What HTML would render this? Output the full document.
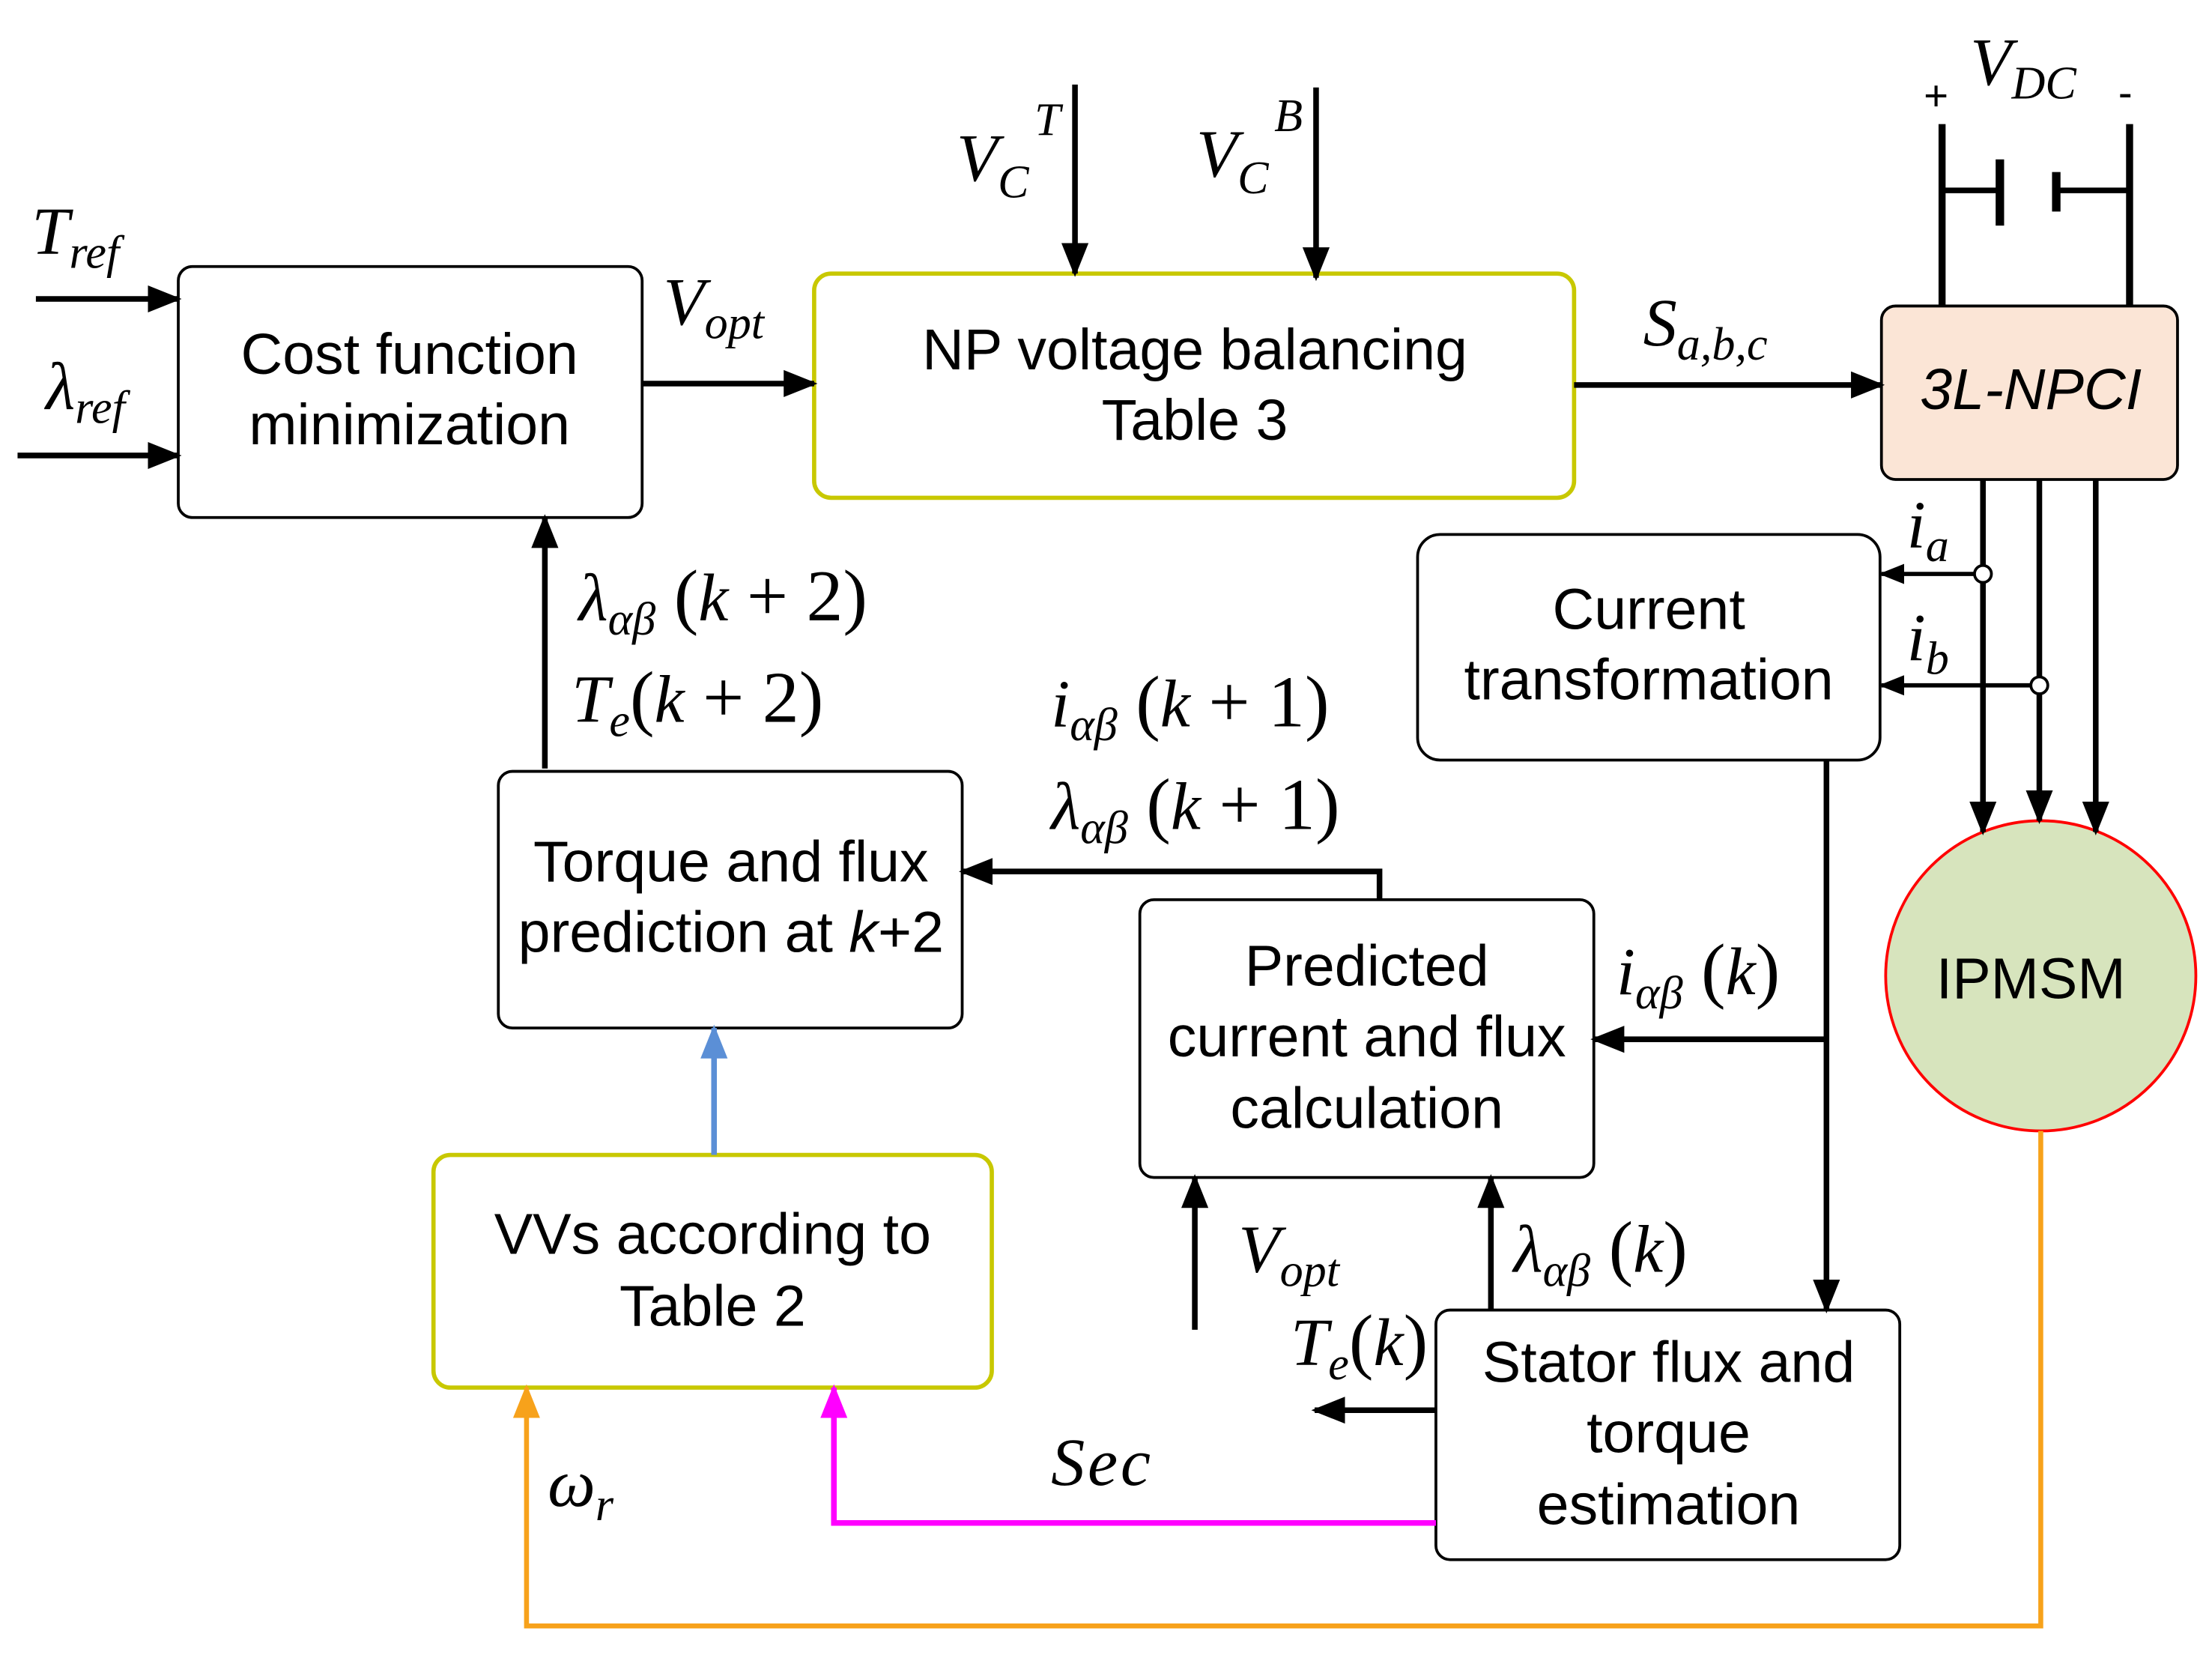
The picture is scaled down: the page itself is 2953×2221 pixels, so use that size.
<!DOCTYPE html>
<html><head><meta charset="utf-8"><style>
html,body{margin:0;padding:0;background:#fff;}
svg{display:block;}
.t{font-family:"Liberation Sans",sans-serif;font-size:41px;fill:#000;text-anchor:middle;}
.m{font-family:"Liberation Serif",serif;font-style:italic;font-size:48px;fill:#000;}
.s{font-size:33px;}
.n{font-style:normal;font-size:52px;}
</style></head><body>
<svg width="2953" height="2221" viewBox="0 0 1568 1180" xmlns="http://www.w3.org/2000/svg">
<defs>
<marker id="ab" viewBox="0 0 10 10" refX="9" refY="5" markerWidth="24" markerHeight="24" orient="auto" markerUnits="userSpaceOnUse"><path d="M0,1 L10,5 L0,9 z" fill="#000"/></marker>
<marker id="abl" viewBox="0 0 10 10" refX="9" refY="5" markerWidth="24" markerHeight="24" orient="auto" markerUnits="userSpaceOnUse"><path d="M0,1 L10,5 L0,9 z" fill="#5b8fd6"/></marker>
<marker id="am" viewBox="0 0 10 10" refX="9" refY="5" markerWidth="24" markerHeight="24" orient="auto" markerUnits="userSpaceOnUse"><path d="M0,1 L10,5 L0,9 z" fill="#ff00ff"/></marker>
<marker id="ao" viewBox="0 0 10 10" refX="9" refY="5" markerWidth="24" markerHeight="24" orient="auto" markerUnits="userSpaceOnUse"><path d="M0,1 L10,5 L0,9 z" fill="#f7a21b"/></marker>
<marker id="as" viewBox="0 0 10 10" refX="9" refY="5" markerWidth="18" markerHeight="18" orient="auto" markerUnits="userSpaceOnUse"><path d="M0,1 L10,5 L0,9 z" fill="#000"/></marker>
</defs>
<g fill="none" stroke-width="2">
<rect x="126" y="189" width="329" height="178" rx="10" stroke="#000"/>
<rect x="577" y="194" width="539" height="159" rx="12" stroke="#c8c800" stroke-width="3"/>
<rect x="1334" y="217" width="210" height="123" rx="10" stroke="#000" fill="#fbe5d6"/>
<rect x="1005" y="379" width="328" height="160" rx="16" stroke="#000"/>
<circle cx="1447" cy="692" r="110" stroke="#ff0000" fill="#d7e4bd"/>
<rect x="353" y="547" width="329" height="182" rx="10" stroke="#000"/>
<rect x="808" y="638" width="322" height="197" rx="10" stroke="#000"/>
<rect x="307" y="819" width="396" height="165" rx="12" stroke="#c8c800" stroke-width="3"/>
<rect x="1018" y="929" width="329" height="177" rx="10" stroke="#000"/>
</g>
<g stroke="#000" stroke-width="4" fill="none">
<line x1="25" y1="212" x2="126" y2="212" marker-end="url(#ab)"/>
<line x1="12" y1="323" x2="126" y2="323" marker-end="url(#ab)"/>
<line x1="455" y1="272" x2="577" y2="272" marker-end="url(#ab)"/>
<line x1="762" y1="60" x2="762" y2="194" marker-end="url(#ab)"/>
<line x1="933" y1="62" x2="933" y2="197" marker-end="url(#ab)"/>
<line x1="1116" y1="273" x2="1334" y2="273" marker-end="url(#ab)"/>
<line x1="1377" y1="88" x2="1377" y2="217" stroke-width="5"/>
<line x1="1510" y1="88" x2="1510" y2="217" stroke-width="5"/>
<line x1="1377" y1="135" x2="1418" y2="135"/>
<line x1="1418" y1="113" x2="1418" y2="160" stroke-width="6"/>
<line x1="1458" y1="122" x2="1458" y2="150" stroke-width="6"/>
<line x1="1458" y1="135" x2="1510" y2="135"/>
<line x1="1406" y1="340" x2="1406" y2="590" marker-end="url(#ab)"/>
<line x1="1446" y1="340" x2="1446" y2="582" marker-end="url(#ab)"/>
<line x1="1486" y1="340" x2="1486" y2="590" marker-end="url(#ab)"/>
<line x1="1400" y1="407" x2="1334" y2="407" stroke-width="3" marker-end="url(#as)"/>
<line x1="1440" y1="486" x2="1334" y2="486" stroke-width="3" marker-end="url(#as)"/>
<line x1="1295" y1="539" x2="1295" y2="929" marker-end="url(#ab)"/>
<line x1="1295" y1="737" x2="1130" y2="737" marker-end="url(#ab)"/>
<polyline points="978,638 978,618 682,618" marker-end="url(#ab)"/>
<line x1="386" y1="545" x2="386" y2="367" marker-end="url(#ab)"/>
<line x1="847" y1="943" x2="847" y2="835" marker-end="url(#ab)"/>
<line x1="1057" y1="929" x2="1057" y2="835" marker-end="url(#ab)"/>
<line x1="1018" y1="1000" x2="932" y2="1000" marker-end="url(#ab)"/>
<line x1="506" y1="819" x2="506" y2="729" stroke="#5b8fd6" marker-end="url(#abl)"/>
<polyline points="1018,1080 591,1080 591,984" stroke="#ff00ff" marker-end="url(#am)"/>
<polyline points="1447,802 1447,1153 373,1153 373,984" stroke="#f7a21b" stroke-width="3.5" marker-end="url(#ao)"/>
</g>
<circle cx="1406" cy="407" r="6" fill="#fff" stroke="#000" stroke-width="2"/>
<circle cx="1446" cy="486" r="6" fill="#fff" stroke="#000" stroke-width="2"/>
<text class="t" x="290" y="265">Cost function</text>
<text class="t" x="290" y="315">minimization</text>
<text class="t" x="847" y="262">NP voltage balancing</text>
<text class="t" x="847" y="312">Table 3</text>
<text class="t" x="1440" y="290" font-style="italic">3L-NPCI</text>
<text class="t" x="1169" y="446">Current</text>
<text class="t" x="1169" y="496">transformation</text>
<text class="t" x="1440" y="708">IPMSM</text>
<text class="t" x="518" y="625">Torque and flux</text>
<text class="t" x="518" y="675">prediction at <tspan font-style="italic">k</tspan>+2</text>
<text class="t" x="969" y="699">Predicted</text>
<text class="t" x="969" y="749">current and flux</text>
<text class="t" x="969" y="800">calculation</text>
<text class="t" x="505" y="889">VVs according to</text>
<text class="t" x="505" y="940">Table 2</text>
<text class="t" x="1183" y="980">Stator flux and</text>
<text class="t" x="1183" y="1030">torque</text>
<text class="t" x="1183" y="1081">estimation</text>
<text class="m" x="22" y="180">T<tspan class="s" dy="10">ref</tspan></text>
<text class="m" x="32" y="290">λ<tspan class="s" dy="10">ref</tspan></text>
<text class="m" x="470" y="230">V<tspan class="s" dy="10">opt</tspan></text>
<text class="m" x="678" y="128">V<tspan class="s" dy="12">C</tspan><tspan class="s" dy="-44" dx="4">T</tspan></text>
<text class="m" x="848" y="125">V<tspan class="s" dy="12">C</tspan><tspan class="s" dy="-44" dx="4">B</tspan></text>
<text class="m" x="1165" y="245">S<tspan class="s" dy="10">a,b,c</tspan></text>
<text class="m" x="1397" y="60">V<tspan class="s" dy="10">DC</tspan></text>
<text x="1364" y="78" font-family="Liberation Sans" font-size="30">+</text>
<text x="1502" y="76" font-family="Liberation Sans" font-size="30">-</text>
<text class="m" x="1352" y="388">i<tspan class="s" dy="10">a</tspan></text>
<text class="m" x="1352" y="468">i<tspan class="s" dy="10">b</tspan></text>
<text class="m" x="410" y="440">λ<tspan class="s" dy="10">αβ</tspan><tspan class="n" dy="-10"> (</tspan>k<tspan class="n"> + 2)</tspan></text>
<text class="m" x="405" y="512">T<tspan class="s" dy="10">e</tspan><tspan class="n" dy="-10">(</tspan>k<tspan class="n"> + 2)</tspan></text>
<text class="m" x="745" y="515">i<tspan class="s" dy="10">αβ</tspan><tspan class="n" dy="-10"> (</tspan>k<tspan class="n"> + 1)</tspan></text>
<text class="m" x="745" y="588">λ<tspan class="s" dy="10">αβ</tspan><tspan class="n" dy="-10"> (</tspan>k<tspan class="n"> + 1)</tspan></text>
<text class="m" x="1146" y="705">i<tspan class="s" dy="10">αβ</tspan><tspan class="n" dy="-10"> (</tspan>k<tspan class="n">)</tspan></text>
<text class="m" x="878" y="902">V<tspan class="s" dy="10">opt</tspan></text>
<text class="m" x="1073" y="902">λ<tspan class="s" dy="10">αβ</tspan><tspan class="n" dy="-10"> (</tspan>k<tspan class="n">)</tspan></text>
<text class="m" x="915" y="968">T<tspan class="s" dy="10">e</tspan><tspan class="n" dy="-10">(</tspan>k<tspan class="n">)</tspan></text>
<text class="m" x="745" y="1053" letter-spacing="2">Sec</text>
<text class="m" x="388" y="1068">ω<tspan class="s" dy="10">r</tspan></text>
</svg>
</body></html>
